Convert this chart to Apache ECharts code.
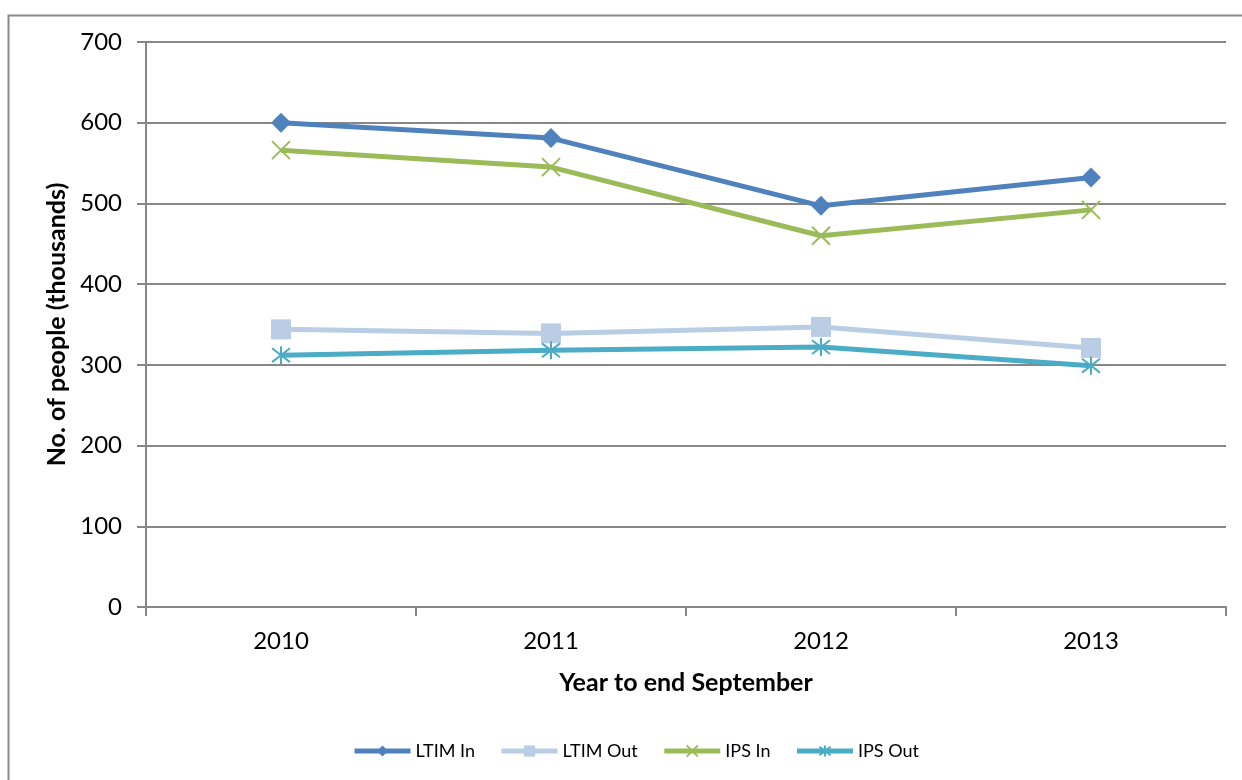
<!DOCTYPE html>
<html>
<head>
<meta charset="utf-8">
<script src="https://cdn.jsdelivr.net/npm/echarts@6/dist/echarts.min.js"></script>
<style>
  html, body { margin: 0; padding: 0; background: #fff; }
  #chart { width: 1242px; height: 780px; }
</style>
</head>
<body>
<div id="chart"></div>
<script>
// Migration estimates, year to end September (thousands of people)
const years = ['2010', '2011', '2012', '2013'];
const ltimIn  = [600, 581, 497, 532];
const ltimOut = [344, 339, 347, 321];
const ipsIn   = [566, 545, 460, 492];
const ipsOut  = [312, 318, 322, 299];

const FONT = 'Lato, "Open Sans", sans-serif';
const GRID = '#878787';

// Open-stroke marker shapes
const CROSS = 'path://M0,0L10,10M10,0L0,10';
const ASTERISK = 'path://M0,0L10,10M10,0L0,10M5,-1.5L5,11.5';

function lineSeries(name, data, color, symbol, size, stroked) {
  return {
    name: name,
    type: 'line',
    data: data,
    symbol: symbol,
    symbolSize: size,
    showAllSymbol: true,
    lineStyle: { color: color, width: 5 },
    itemStyle: stroked
      ? { color: color, borderColor: color, borderWidth: 2 }
      : { color: color, borderWidth: 0 },
    emphasis: { disabled: true },
    animation: false
  };
}

const chart = echarts.init(document.getElementById('chart'));
chart.setOption({
  backgroundColor: '#fff',
  textStyle: { fontFamily: FONT },
  graphic: [{
    type: 'rect',
    left: 6, top: 13,
    shape: { width: 1260, height: 800 },
    style: { fill: 'none', stroke: '#8a8a8a', lineWidth: 2 },
    silent: true
  }],
  grid: { left: 146, top: 42, right: 16, bottom: 173, containLabel: false },
  legend: {
    bottom: 15,
    left: 347,
    itemWidth: 56,
    itemHeight: 14,
    itemGap: 24,
    lineStyle: { width: 5 },
    textStyle: { fontFamily: FONT, fontSize: 18, color: '#000' },
    data: ['LTIM In', 'LTIM Out', 'IPS In', 'IPS Out']
  },
  xAxis: {
    type: 'category',
    data: years,
    boundaryGap: true,
    name: 'Year to end September',
    nameLocation: 'middle',
    nameGap: 63,
    nameTextStyle: { fontFamily: FONT, fontSize: 25, fontWeight: 'bold', color: '#000' },
    axisLine: { lineStyle: { color: GRID, width: 2 } },
    axisTick: { show: true, length: 9, inside: false, lineStyle: { color: GRID, width: 2 } },
    axisLabel: { margin: 22, fontFamily: FONT, fontSize: 24, color: '#000' }
  },
  yAxis: {
    type: 'value',
    min: 0, max: 700, interval: 100,
    name: 'No. of people (thousands)',
    nameLocation: 'middle',
    nameGap: 73,
    nameRotate: 90,
    nameTextStyle: { fontFamily: FONT, fontSize: 25, fontWeight: 'bold', color: '#000' },
    axisLine: { show: true, lineStyle: { color: GRID, width: 2 } },
    axisTick: { show: true, length: 9, inside: false, lineStyle: { color: GRID, width: 2 } },
    axisLabel: { margin: 24, fontFamily: FONT, fontSize: 24, color: '#000' },
    splitLine: { show: true, lineStyle: { color: GRID, width: 2 } }
  },
  series: [
    lineSeries('LTIM In', ltimIn, '#4F81BD', 'diamond', 20, false),
    lineSeries('LTIM Out', ltimOut, '#B9CDE5', 'rect', 20, false),
    lineSeries('IPS In', ipsIn, '#9BBB59', CROSS, 18, true),
    lineSeries('IPS Out', ipsOut, '#4BACC6', ASTERISK, 18, true)
  ]
});
</script>
</body>
</html>
